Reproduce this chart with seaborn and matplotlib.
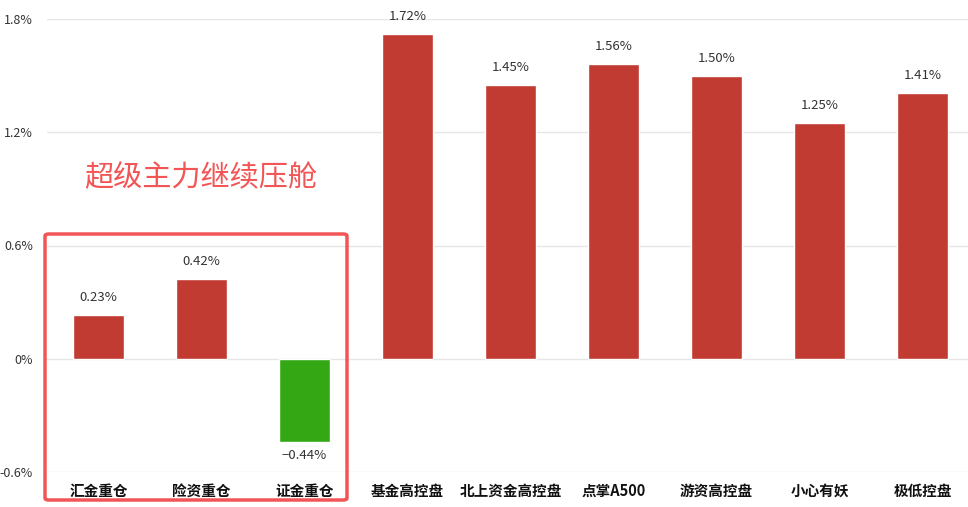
import matplotlib
matplotlib.use("Agg")
import matplotlib.pyplot as plt
import seaborn as sns
from matplotlib.patches import FancyBboxPatch

categories = ['汇金重仓', '险资重仓', '证金重仓', '基金高控盘', '北上资金高控盘',
              '点掌A500', '游资高控盘', '小心有妖', '极低控盘']
values = [0.23, 0.42, -0.44, 1.72, 1.45, 1.56, 1.50, 1.25, 1.41]
yticks = [-0.6, 0, 0.6, 1.2, 1.8]
ytick_labels = ['-0.6%', '0%', '0.6%', '1.2%', '1.8%']
note = '超级主力继续压舱'

sns.set_theme(style='white')
plt.rcParams['font.family'] = ['Noto Sans CJK SC', 'DejaVu Sans']
plt.rcParams['axes.unicode_minus'] = False

RED = '#c23b33'
GREEN = '#33a814'
colors = [GREEN if v < 0 else RED for v in values]

fig = plt.figure(figsize=(9.68, 5.07), dpi=100)
ax = fig.add_axes([47 / 968, 35 / 507, 921 / 968, 453 / 507])

sns.barplot(x=categories, y=values, hue=categories, palette=colors,
            legend=False, width=0.49, ax=ax, saturation=1)

ax.set_xlim(-0.5, -0.5 + 921 / 103)
ax.set_ylim(-0.6, 1.8)
ax.set_yticks(yticks)
ax.set_yticklabels(ytick_labels, fontsize=9, color='#333333')
ax.tick_params(axis='y', length=0, pad=10)
ax.tick_params(axis='x', length=0, pad=8)
for lab in ax.get_xticklabels():
    lab.set_fontsize(10.5)
    lab.set_fontweight('bold')
    lab.set_color('#111111')
ax.set_xlabel('')
ax.set_ylabel('')
ax.yaxis.grid(True, color='#e6e6e6', linewidth=1)
ax.set_axisbelow(True)
for s in ax.spines.values():
    s.set_visible(False)

for i, v in enumerate(values):
    if v >= 0:
        ax.annotate(f'{v:.2f}%', (i, v), xytext=(0, 8), textcoords='offset points',
                    ha='center', va='bottom', fontsize=9.5, color='#333333')
    else:
        ax.annotate(f'\u2212{abs(v):.2f}%', (i, v), xytext=(0, -5), textcoords='offset points',
                    ha='center', va='top', fontsize=9.5, color='#333333')

box = FancyBboxPatch((45 / 968, 7 / 507), 302 / 968, 266 / 507,
                     boxstyle='round,pad=0,rounding_size=0.004',
                     transform=fig.transFigure, fill=False,
                     edgecolor='#f25555', linewidth=2.5, clip_on=False)
fig.patches.append(box)

fig.text(201 / 968, 1 - 178 / 507, note, ha='center', va='center',
         fontsize=21, color='#f25555')

fig.savefig('out.png', dpi=100)
